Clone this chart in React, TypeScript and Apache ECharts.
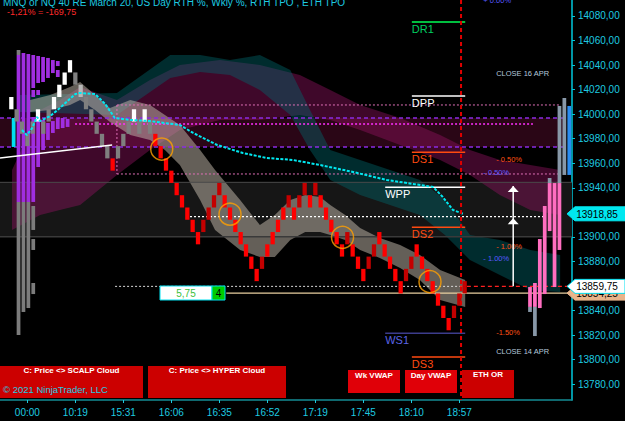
import React, { useEffect, useRef } from 'react';
import * as echarts from 'echarts';

const FONT = '"Liberation Sans", Arial, Helvetica, sans-serif';

// ---- axis ranges ----
const X_MIN = -2.125;
const X_MAX = 105.125;
const Y_MIN = 13767.2;
const Y_MAX = 14093.0;

const timeLabels = ['00:00', '10:19', '15:31', '16:06', '16:35', '16:52', '17:19', '17:45', '18:10', '18:57'];
const timeLabelIdx = [3, 12, 21, 30, 39, 48, 57, 66, 75, 84];
const priceTicks = [13780, 13800, 13820, 13840, 13880, 13900, 13940, 13960, 13980, 14000, 14020, 14040, 14060, 14080];

// ---- renko bricks (10 pt) ----
const brickSize = 10;
const brickLows = [
  14004, 13994, 13984, 13974, 13984, 13994, 13984, 13994, 14004, 14014,
  14024, 14034, 14024, 14014, 14004, 13994, 13984, 13974, 13964, 13954,
  13964, 13974, 13984, 13994, 13984, 13994, 13984, 13974, 13964, 13954,
  13944, 13934, 13924, 13914, 13904, 13894, 13904, 13914, 13924, 13934,
  13924, 13914, 13904, 13894, 13884, 13874, 13864, 13874, 13884, 13894,
  13904, 13914, 13924, 13914, 13924, 13934, 13924, 13934, 13924, 13914,
  13904, 13894, 13884, 13894, 13884, 13874, 13864, 13874, 13884, 13894,
  13884, 13874, 13864, 13854, 13864, 13874, 13884, 13874, 13864, 13854,
  13844, 13834, 13824, 13834, 13844, 13854,
];
const brickKinds = [
  'W', 'G', 'G', 'G', 'G', 'W', 'G', 'G', 'W', 'W',
  'W', 'W', 'G', 'L', 'G', 'G', 'G', 'G', 'G', 'R',
  'G', 'G', 'G', 'W', 'G', 'W', 'G', 'R', 'R', 'R',
  'R', 'R', 'R', 'R', 'R', 'R', 'D', 'D', 'D', 'D',
  'R', 'R', 'R', 'R', 'R', 'R', 'R', 'D', 'R', 'R',
  'R', 'R', 'D', 'R', 'D', 'D', 'R', 'D', 'R', 'R',
  'R', 'R', 'R', 'D', 'R', 'R', 'R', 'D', 'D', 'R',
  'R', 'R', 'R', 'R', 'D', 'D', 'R', 'R', 'R', 'R',
  'R', 'R', 'R', 'D', 'D', 'D',
];

// ---- clouds ----
const scalpIdx = [3.5, 7.3, 11.0, 12.9, 15.7, 18.5, 22.3, 26.0, 28.8, 31.6, 35.4, 38.2, 42.9, 46.6, 49.4, 52.3, 55.1, 57.9, 59.8, 62.6, 65.4, 69.1, 72.9, 76.6, 80.4, 85.1];
const scalpUpper = [14011.6, 14015.6, 14022.1, 14026.2, 14015.6, 14005.0, 14011.6, 14007.5, 13999.3, 13991.2, 13970.8, 13954.5, 13930.1, 13909.7, 13917.9, 13930.1, 13934.2, 13932.5, 13926.0, 13917.9, 13907.3, 13899.2, 13893.4, 13885.3, 13873.1, 13864.9];
const scalpLower = [14001.8, 14003.4, 14007.5, 14011.6, 14003.4, 13993.6, 13983.0, 13979.0, 13970.8, 13958.6, 13930.1, 13905.7, 13889.4, 13883.7, 13883.7, 13897.5, 13904.0, 13904.0, 13901.6, 13897.5, 13889.4, 13882.9, 13874.7, 13864.9, 13848.7, 13843.0];

const hyperIdx = [0.13, 5.4, 9.1, 12.9, 19.8, 26.0, 31.6, 39.1, 46.6, 54.1, 59.8, 65.4, 72.9, 80.4, 86.0, 91.6, 97.3, 102.9];
const hyperUpper = [13954.5, 14003.4, 14011.6, 14022.1, 14011.6, 14027.8, 14040.1, 14044.1, 14040.1, 14031.9, 14019.7, 14007.5, 13996.9, 13983.0, 13970.8, 13962.7, 13958.6, 13954.5];
const hyperLower = [13905.7, 13917.9, 13922.0, 13926.0, 13950.5, 13970.8, 13987.1, 13995.3, 13995.3, 13999.3, 13995.3, 13987.1, 13974.9, 13962.7, 13950.5, 13934.2, 13922.0, 13917.9];

const tealIdx = [1.6, 19.8, 29.8, 35.4, 41.0, 46.6, 52.3, 56.0, 59.8, 65.4, 71.0, 76.6, 81.3, 86.0, 91.6, 97.3, 102.9];
const tealUpper = [14015.6, 14017.3, 14048.2, 14048.2, 14044.1, 14048.2, 14036.0, 14003.4, 13970.8, 13962.7, 13954.5, 13946.4, 13930.1, 13901.6, 13897.5, 13889.4, 13885.3];
const tealLower = [14001.8, 13999.3, 14029.5, 14034.4, 14031.9, 14019.7, 13999.3, 13970.8, 13946.4, 13934.2, 13926.0, 13917.9, 13901.6, 13881.2, 13869.0, 13856.8, 13855.2];

// ---- VWAP (cyan dashed) ----
const vwapIdx = [2.0, 2.9, 3.9, 4.8, 5.4, 7.3, 9.1, 12.0, 12.9, 15.7, 17.6, 19.4, 22.3, 26.0, 31.6, 34.1, 38.6, 43.4, 47.9, 52.8, 57.9, 64.1, 70.4, 79.1, 80.9, 82.8, 84.7];
const vwapPrice = [13987.1, 13983.0, 13988.7, 13997.7, 13994.4, 13998.5, 14005.0, 14016.4, 14017.3, 14016.4, 14008.3, 13996.9, 13995.3, 13994.4, 13991.2, 13984.7, 13974.9, 13968.4, 13964.3, 13962.7, 13958.6, 13952.9, 13946.4, 13940.7, 13932.5, 13922.0, 13918.85];

// ---- trend line ----
const trendIdx = [-2.125, 18.9];
const trendPrice = [13964.3, 13974.9];

// ---- levels ----
const valueAreaBand = [13973.3, 13996.9];
const tpoBand = [13900.2, 13944.5];
const magentaLevel = 13992.0;
const pinkBox = [13951.3, 14007.5];
const whiteDottedLevel = 13916.5;
const lastPrice = 13859.75;
const bidPrice = 13854.25;
const vwapLast = 13918.85;
const sessionEndIdx = 84.32;

// ---- pivots ----
const pivotNames = ['DR1', 'DPP', 'DS1', 'WPP', 'DS2', 'WS1', 'DS3'];
const pivotPrices = [14075.1, 14014.8, 13969.0, 13940.4, 13907.9, 13821.5, 13802.2];
const pivotStart = [75.1, 75.1, 75.1, 70.1, 75.1, 70.1, 75.1];
const pivotEnd = 85.1;

// ---- signal circles ----
const circleIdx = [28.2, 41.0, 62.1, 78.5];
const circlePrice = [13971.6, 13918.5, 13899.7, 13863.6];

// ---- RTH TPO profile (left): [column, top, bottom] ----
const rthProfile = [
  [-1, 13996.9, 13973.3],
  [0, 14052.3, 14048.2], [0, 14048.2, 13928.5], [0, 13928.5, 13820.1],
  [1, 14049.8, 13928.5], [1, 13928.5, 13838.9],
  [2, 14049.0, 13928.5], [2, 13928.5, 13842.1],
  [3, 14048.2, 14021.3], [3, 14019.7, 14014.0], [3, 13997.7, 13928.5], [3, 13925.2, 13905.7], [3, 13898.3, 13889.4], [3, 13862.5, 13853.5],
  [4, 14047.4, 14025.4], [4, 14019.7, 14015.6], [4, 13997.7, 13957.0],
  [5, 14046.6, 14026.2], [5, 13995.3, 13970.8],
  [6, 14045.8, 14029.5], [6, 13992.8, 13979.0],
  [7, 14044.1, 14033.5], [7, 13994.4, 13984.7],
  [8, 14043.3, 14039.2], [8, 14036.0, 14030.3], [8, 13996.9, 13987.9],
  [9, 13996.9, 13988.7],
  [10, 13996.1, 13989.6],
];
const rthProfileKinds = ['c', 'g', 'p', 'g', 'p', 'g', 'p', 'g', 'p', 'p', 'p', 'g', 'g', 'g', 'p', 'p', 'p', 'p', 'p', 'p', 'p', 'p', 'p', 'p', 'p', 'p', 'p', 'p'];

// ---- ETH TPO profile (right) ----
const ethProfile = [
  [0, 13859.2, 13843.0], [0, 13843.0, 13838.9],
  [1, 13862.5, 13843.0], [1, 13843.0, 13819.3],
  [2, 13898.3, 13842.1],
  [3, 13925.2, 13853.5],
  [4, 13948.0, 13943.9], [4, 13943.9, 13904.8],
  [5, 13943.9, 13859.2],
  [6, 14006.7, 13943.9], [6, 13943.9, 13889.4],
  [7, 14013.2, 13950.5],
  [8, 14006.7, 13950.5],
];
const ethProfileKinds = ['k', 's', 'k', 's', 'k', 'k', 's', 'k', 'k', 's', 'k', 's', 'b'];

// ---- arrows ----
const arrowIdx = 94.1;
const arrowFrom = 13859.75;
const arrowTips = [13941.5, 13915.3];

// ---- notes ----
const noteTexts = ['CLOSE 16 APR', '- 0.50%', '- 0.50%', '- 1.00%', '- 1.00%', '-1.50%', 'CLOSE 14 APR', '+ 0.00%'];
const noteIdx = [90.9, 90.9, 88.5, 90.9, 88.5, 90.9, 90.9, 88.5];
const notePrice = [14033.5, 13962.7, 13952.9, 13892.6, 13882.1, 13821.8, 13806.3, 14092.6];

const BRICK_COLORS: Record<string, string> = { R: '#ff0000', D: '#c40000', W: '#ffffff', G: '#7f7f7f', L: '#b8b8b8' };
const PROFILE_COLORS: Record<string, string> = { p: '#a02ee0', g: '#7c7c7c', c: '#00e0f0', k: '#ff6ec0', s: '#8898a8', b: '#2a8cf0' };
const NOTE_COLORS = ['#b4c8dc', '#ff5014', '#5a5aff', '#ff5014', '#5a5aff', '#ff5014', '#b4c8dc', '#5a5aff'];
const PIVOT_STYLE: Record<string, { line: string; text: string }> = {
  DR1: { line: '#00ff55', text: '#00d060' },
  DPP: { line: '#ffffff', text: '#ffffff' },
  WPP: { line: '#ffffff', text: '#ffffff' },
  DS1: { line: '#ff4a10', text: '#ff4a10' },
  DS2: { line: '#ff4a10', text: '#ff4a10' },
  DS3: { line: '#ff4a10', text: '#ff4a10' },
  WS1: { line: '#3c3c8c', text: '#5a64e6' },
};

function txtStyle(text: string, fill: string, font: string, align: string, valign: string) {
  return { text, fill, font, textAlign: align, textVerticalAlign: valign, align, verticalAlign: valign };
}

function cloud(idx: number[], up: number[], low: number[], fill: string) {
  return {
    type: 'custom',
    silent: true,
    data: [[0, 13900]],
    renderItem: (_p: any, api: any) => {
      const pts: number[][] = idx.map((x, k) => api.coord([x, up[k]]));
      for (let k = idx.length - 1; k >= 0; k--) pts.push(api.coord([idx[k], low[k]]));
      return { type: 'polygon', shape: { points: pts }, style: { fill } };
    },
  };
}

function profile(segs: number[][], kinds: string[], start: number) {
  return {
    type: 'custom',
    silent: true,
    data: segs,
    renderItem: (params: any, api: any) => {
      const c = api.value(0);
      const x0 = start + c * 0.92;
      const a = api.coord([x0, api.value(1)]);
      const b = api.coord([x0 + 0.7, api.value(2)]);
      return {
        type: 'rect',
        shape: { x: a[0], y: a[1], width: b[0] - a[0], height: b[1] - a[1] },
        style: { fill: PROFILE_COLORS[kinds[params.dataIndex]] },
      };
    },
  };
}

function buildOption() {
  const hLines = [
    { y: valueAreaBand[1], x1: X_MIN, x2: 103.8, color: '#8a2be2', w: 1.5, dash: [4, 3] },
    { y: valueAreaBand[0], x1: X_MIN, x2: 103.8, color: '#8a2be2', w: 1.5, dash: [4, 3] },
    { y: tpoBand[1], x1: X_MIN, x2: X_MAX, color: '#4a4a4a', w: 1, dash: null },
    { y: tpoBand[0], x1: X_MIN, x2: X_MAX, color: '#3a3a3a', w: 1.5, dash: null },
    { y: magentaLevel, x1: 11.95, x2: 97.8, color: '#ff30ff', w: 1.5, dash: [2, 2] },
    { y: pinkBox[1], x1: 19.8, x2: 102.9, color: '#e070b8', w: 1, dash: [2, 2] },
    { y: pinkBox[0], x1: 19.8, x2: 102.9, color: '#e070b8', w: 1, dash: [2, 2] },
    { y: whiteDottedLevel, x1: 33.5, x2: 100.1, color: '#ffffff', w: 1.2, dash: [2, 2] },
    { y: lastPrice, x1: 19.45, x2: 84.1, color: '#d8d8d8', w: 1, dash: [2, 2] },
    { y: lastPrice, x1: 84.1, x2: X_MAX, color: '#ff2020', w: 1.2, dash: [4, 3] },
    { y: bidPrice, x1: 40.3, x2: X_MAX, color: '#e8cfa0', w: 1.2, dash: null },
  ];

  const axisBoxes = [
    { price: vwapLast, fill: '#00e8f0', stroke: '#00e8f0' },
    { price: bidPrice, fill: '#e8b48a', stroke: '#e8b48a' },
    { price: lastPrice, fill: '#ffffff', stroke: '#00e0f0' },
  ];

  const series: any[] = [
    {
      type: 'custom',
      silent: true,
      data: [[0, 13900]],
      renderItem: (_p: any, api: any) => {
        const m1 = api.coord([X_MIN, valueAreaBand[1]]);
        const m2 = api.coord([103.8, valueAreaBand[0]]);
        const g1 = api.coord([X_MIN, tpoBand[1]]);
        const g2 = api.coord([X_MAX, tpoBand[0]]);
        return {
          type: 'group',
          children: [
            { type: 'rect', shape: { x: m1[0], y: m1[1], width: m2[0] - m1[0], height: m2[1] - m1[1] }, style: { fill: '#2a0616' } },
            { type: 'rect', shape: { x: g1[0], y: g1[1], width: g2[0] - g1[0], height: g2[1] - g1[1] }, style: { fill: '#161616' } },
          ],
        };
      },
    },
    cloud(hyperIdx, hyperUpper, hyperLower, 'rgba(150,20,100,0.42)'),
    cloud(tealIdx, tealUpper, tealLower, 'rgba(0,105,110,0.42)'),
    cloud(scalpIdx, scalpUpper, scalpLower, 'rgba(200,190,175,0.5)'),
    {
      type: 'custom',
      silent: true,
      data: hLines.map((_, i) => [i, 13900]),
      renderItem: (params: any, api: any) => {
        const d = hLines[params.dataIndex];
        const a = api.coord([d.x1, d.y]);
        const b = api.coord([d.x2, d.y]);
        const children: any[] = [
          { type: 'line', shape: { x1: a[0], y1: a[1], x2: b[0], y2: b[1] }, style: { stroke: d.color, lineWidth: d.w, lineDash: d.dash || undefined } },
        ];
        if (params.dataIndex === 5) {
          const c = api.coord([19.8, pinkBox[0]]);
          children.push({ type: 'line', shape: { x1: a[0], y1: a[1], x2: c[0], y2: c[1] }, style: { stroke: d.color, lineWidth: 1, lineDash: [2, 2] } });
        }
        return { type: 'group', children };
      },
    },
    profile(rthProfile, rthProfileKinds, 1.0),
    profile(ethProfile, ethProfileKinds, 96.9),
    {
      type: 'line',
      silent: true,
      data: trendIdx.map((x, k) => [x, trendPrice[k]]),
      showSymbol: false,
      lineStyle: { color: '#ffffff', width: 1.5 },
    },
    {
      type: 'line',
      silent: true,
      data: vwapIdx.map((x, k) => [x, vwapPrice[k]]),
      showSymbol: false,
      lineStyle: { color: '#00e8f0', width: 2, type: [3, 1.5] },
    },
    {
      type: 'custom',
      silent: true,
      data: brickLows.map((v, i) => [i, v]),
      renderItem: (params: any, api: any) => {
        const i = api.value(0);
        const low = api.value(1);
        const a = api.coord([i - 0.4, low + brickSize]);
        const b = api.coord([i + 0.4, low]);
        return {
          type: 'rect',
          shape: { x: a[0], y: a[1], width: b[0] - a[0], height: b[1] - a[1] },
          style: { fill: BRICK_COLORS[brickKinds[params.dataIndex]] },
        };
      },
    },
    {
      type: 'scatter',
      silent: true,
      data: circleIdx.map((x, k) => [x, circlePrice[k]]),
      symbol: 'circle',
      symbolSize: 22,
      itemStyle: { color: 'rgba(0,0,0,0)', borderColor: '#ffa000', borderWidth: 1.5 },
    },
    {
      type: 'custom',
      silent: true,
      data: pivotPrices.map((p, k) => [pivotStart[k], p]),
      renderItem: (params: any, api: any) => {
        const k = params.dataIndex;
        const a = api.coord([pivotStart[k], pivotPrices[k]]);
        const b = api.coord([pivotEnd, pivotPrices[k]]);
        const st = PIVOT_STYLE[pivotNames[k]];
        return {
          type: 'group',
          children: [
            { type: 'line', shape: { x1: a[0], y1: a[1], x2: b[0], y2: b[1] }, style: { stroke: st.line, lineWidth: 1.5 } },
            { type: 'text', x: a[0], y: a[1] + 1.5, style: txtStyle(pivotNames[k], st.text, `11px ${FONT}`, 'left', 'top') },
          ],
        };
      },
    },
    {
      type: 'custom',
      silent: true,
      data: noteIdx.map((x, k) => [x, notePrice[k]]),
      renderItem: (params: any, api: any) => {
        const k = params.dataIndex;
        const p = api.coord([noteIdx[k], notePrice[k]]);
        return { type: 'text', x: p[0], y: p[1], style: txtStyle(noteTexts[k], NOTE_COLORS[k], `7.5px ${FONT}`, 'left', 'middle') };
      },
    },
    {
      type: 'custom',
      silent: true,
      data: [[arrowIdx, arrowFrom]],
      renderItem: (_p: any, api: any) => {
        const base = api.coord([arrowIdx, arrowFrom]);
        const tips = arrowTips.map((t) => api.coord([arrowIdx, t]));
        const children: any[] = [
          { type: 'line', shape: { x1: base[0], y1: base[1], x2: tips[0][0], y2: tips[0][1] }, style: { stroke: '#ffffff', lineWidth: 1.5 } },
        ];
        tips.forEach((t: number[]) => {
          children.push({ type: 'polygon', shape: { points: [[t[0], t[1]], [t[0] - 5.5, t[1] + 6], [t[0] + 5.5, t[1] + 6]] }, style: { fill: '#ffffff' } });
        });
        return { type: 'group', children };
      },
    },
    {
      type: 'line',
      silent: true,
      data: [[sessionEndIdx, Y_MAX], [sessionEndIdx, Y_MIN]],
      showSymbol: false,
      lineStyle: { color: '#e00000', width: 2, type: [4, 3] },
    },
    {
      type: 'custom',
      silent: true,
      clip: false,
      z: 10,
      data: axisBoxes.map((b) => [X_MAX, b.price]),
      renderItem: (params: any, api: any) => {
        const bx = axisBoxes[params.dataIndex];
        const p = api.coord([X_MAX, bx.price]);
        const x = p[0];
        const y = p[1];
        const h = 7;
        return {
          type: 'group',
          children: [
            {
              type: 'polygon',
              shape: { points: [[x - 5, y], [x + 3, y - h], [x + 53, y - h], [x + 53, y + h], [x + 3, y + h]] },
              style: { fill: bx.fill, stroke: bx.stroke, lineWidth: 1 },
            },
            { type: 'text', x: x + 25, y: y + 0.5, style: txtStyle(bx.price.toFixed(2).replace('.', ','), '#000000', `10px ${FONT}`, 'center', 'middle') },
          ],
        };
      },
    },
  ];

  const box = (x: number, y: number, w: number, h: number, fill: string, label: string, ty: number) => [
    { type: 'rect', z: 50, shape: { x, y, width: w, height: h }, style: { fill } },
    { type: 'text', z: 51, x: x + w / 2, y: ty, style: txtStyle(label, '#ffffff', `bold 8px ${FONT}`, 'center', 'middle') },
  ];

  const graphic: any[] = [
    { type: 'text', z: 60, x: 3, y: 2, style: txtStyle('MNQ or NQ 40 RE March 20, US Day RTH %, Wkly %, RTH TPO , ETH TPO', '#1ecbe1', `10px ${FONT}`, 'left', 'middle') },
    { type: 'text', z: 60, x: 7, y: 12, style: txtStyle('-1,21% = -169,75', '#ff2a2a', `9px ${FONT}`, 'left', 'middle') },
    ...box(0, 366, 143, 32, '#cc0000', 'C: Price <> SCALP Cloud', 370.5),
    ...box(148, 366, 138, 32, '#cc0000', 'C: Price <> HYPER Cloud', 370.5),
    ...box(348, 370, 52, 23, '#e00008', 'Wk VWAP', 375),
    ...box(405, 370, 52, 23, '#e00008', 'Day VWAP', 375),
    ...box(462, 370, 52, 28, '#cc0000', 'ETH OR', 374),
    { type: 'text', z: 60, x: 3, y: 389, style: txtStyle('© 2021 NinjaTrader, LLC', '#1ecbe1', `9.5px ${FONT}`, 'left', 'middle') },
    { type: 'rect', z: 60, shape: { x: 160, y: 286, width: 52, height: 14 }, style: { fill: '#ffffff', stroke: '#00e0f0', lineWidth: 1 } },
    { type: 'text', z: 61, x: 186, y: 293.5, style: txtStyle('5,75', '#3cc03c', `10px ${FONT}`, 'center', 'middle') },
    { type: 'rect', z: 60, shape: { x: 212, y: 286, width: 13, height: 14 }, style: { fill: '#00cc00', stroke: '#00e0f0', lineWidth: 1 } },
    { type: 'text', z: 61, x: 218.5, y: 293.5, style: txtStyle('4', '#000000', `10px ${FONT}`, 'center', 'middle') },
  ];

  return {
    backgroundColor: '#000000',
    animation: false,
    grid: { left: 0, right: 53, top: 0, bottom: 21, containLabel: false },
    xAxis: {
      type: 'value',
      min: X_MIN,
      max: X_MAX,
      axisLine: { show: true, onZero: false, lineStyle: { color: '#148c94', width: 1.5 } },
      axisTick: { show: true, customValues: timeLabelIdx, length: 3, lineStyle: { color: '#1ecbe1' } },
      axisLabel: {
        customValues: timeLabelIdx,
        formatter: (v: number) => timeLabels[timeLabelIdx.indexOf(Math.round(v))] || '',
        color: '#1ecbe1',
        fontSize: 10,
        fontFamily: FONT,
        margin: 7,
      },
      splitLine: { show: false },
    },
    yAxis: {
      type: 'value',
      position: 'right',
      min: Y_MIN,
      max: Y_MAX,
      axisLine: { show: true, onZero: false, lineStyle: { color: '#00c8dc', width: 1.5 } },
      axisTick: { show: true, customValues: priceTicks, length: 3, lineStyle: { color: '#00c8dc' } },
      axisLabel: {
        customValues: priceTicks,
        formatter: (v: number) => v.toFixed(2).replace('.', ','),
        color: '#1ecbe1',
        fontSize: 10,
        fontFamily: FONT,
        margin: 6,
      },
      splitLine: { show: false },
    },
    series,
    graphic,
  };
}

export default function App() {
  const ref = useRef<HTMLDivElement>(null);
  useEffect(() => {
    document.body.style.margin = '0';
    document.body.style.background = '#000';
    const chart = echarts.init(ref.current as HTMLDivElement, null, { renderer: 'svg' });
    chart.setOption(buildOption() as any);
    return () => chart.dispose();
  }, []);
  return <div ref={ref} style={{ width: 625, height: 421 }} />;
}
